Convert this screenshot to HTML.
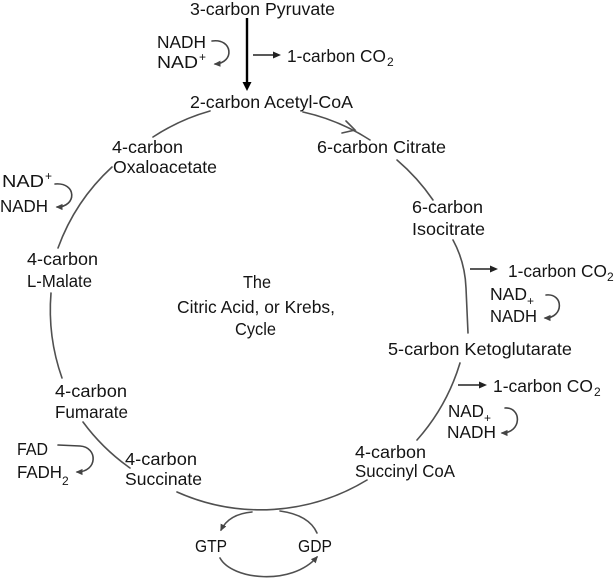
<!DOCTYPE html>
<html>
<head>
<meta charset="utf-8">
<style>
  html, body { margin: 0; padding: 0; background: #ffffff; }
  svg { display: block; }
  text { font-family: "Liberation Sans", "DejaVu Sans", sans-serif; font-size: 17.5px; fill: #141414; }
  .sm { font-size: 12px; }
</style>
</head>
<body>
<svg width="614" height="582" viewBox="0 0 614 582" xmlns="http://www.w3.org/2000/svg">
  <defs>
    <marker id="ah" viewBox="0 0 10 10" refX="8" refY="5" markerWidth="7" markerHeight="7" markerUnits="userSpaceOnUse" orient="auto">
      <path d="M0,0.5 L10,5 L0,9.5 z" fill="#444"/>
    </marker>
  </defs>

  <!-- Big cycle segments -->
  <g fill="none" stroke="#505050" stroke-width="1.6" stroke-linecap="round">
    <path d="M210,111 A205,205 0 0 0 153,137"/>
    <path d="M112,167 A205,205 0 0 0 58,248"/>
    <path d="M51,293 A205,205 0 0 0 62,378"/>
    <path d="M83,422 A205,205 0 0 0 130,468"/>
    <path d="M177,492 A205,205 0 0 0 367,480"/>
    <path d="M417,440 A205,205 0 0 0 460,363"/>
    <path d="M453,240 Q465,262 466,288 L468,333"/>
    <path d="M397,160 A205,205 0 0 1 433,200"/>
    <path d="M303,112 A205,205 0 0 1 370,140"/>
    <path d="M346,121 L355,130 L342,133"/>
  </g>

  <!-- GTP / GDP loop -->
  <g fill="none" stroke="#505050" stroke-width="1.6" stroke-linecap="round">
    <path d="M252,512 Q229,514 221,530" marker-end="url(#ah)"/>
    <path d="M280,511 Q309,515 317,533"/>
    <path d="M220,558 C232,580 292,586 317,557" marker-end="url(#ah)"/>
  </g>

  <!-- Curved cofactor arrows -->
  <g fill="none" stroke="#444" stroke-width="1.6" stroke-linecap="round">
    <path d="M212,41 C233,38 235,63 215,64" marker-end="url(#ah)"/>
    <path d="M55,184 C77,182 77,207 57,207" marker-end="url(#ah)"/>
    <path d="M546,295 C564,293 564,318 545,318" marker-end="url(#ah)"/>
    <path d="M505,408 C522,407 522,433 502,433" marker-end="url(#ah)"/>
    <path d="M58,445 L80,446 C98,447 98,472 77,472" marker-end="url(#ah)"/>
  </g>

  <!-- Straight arrows -->
  <line x1="247" y1="18" x2="247" y2="85" stroke="#000" stroke-width="2.4"/>
  <polygon points="242.5,82 247,91 251.5,82" fill="#000"/>

  <line x1="253" y1="55" x2="275" y2="55" stroke="#222" stroke-width="1.6"/>
  <polygon points="273,51.5 281,55 273,58.5" fill="#222"/>

  <line x1="470" y1="269" x2="492" y2="269" stroke="#222" stroke-width="1.6"/>
  <polygon points="490,265.5 498,269 490,272.5" fill="#222"/>

  <line x1="458" y1="385" x2="481" y2="385" stroke="#222" stroke-width="1.6"/>
  <polygon points="479,381.5 487,385 479,388.5" fill="#222"/>

  <!-- Labels -->
  <text x="190" y="15" textLength="145" lengthAdjust="spacingAndGlyphs">3-carbon Pyruvate</text>

  <text x="157" y="48" textLength="49" lengthAdjust="spacingAndGlyphs">NADH</text>
  <text x="157" y="68" textLength="41" lengthAdjust="spacingAndGlyphs">NAD</text>
  <text x="199" y="61" class="sm">+</text>

  <text x="287" y="62" textLength="99" lengthAdjust="spacingAndGlyphs">1-carbon CO</text>
  <text x="387" y="66" class="sm">2</text>

  <text x="190" y="108" textLength="163" lengthAdjust="spacingAndGlyphs">2-carbon Acetyl-CoA</text>

  <text x="112" y="153" textLength="71" lengthAdjust="spacingAndGlyphs">4-carbon</text>
  <text x="113" y="173" textLength="104" lengthAdjust="spacingAndGlyphs">Oxaloacetate</text>

  <text x="317" y="153" textLength="129" lengthAdjust="spacingAndGlyphs">6-carbon Citrate</text>

  <text x="2" y="187" textLength="42" lengthAdjust="spacingAndGlyphs">NAD</text>
  <text x="45" y="180" class="sm">+</text>
  <text x="0" y="212" textLength="48" lengthAdjust="spacingAndGlyphs">NADH</text>

  <text x="412" y="213" textLength="71" lengthAdjust="spacingAndGlyphs">6-carbon</text>
  <text x="412" y="235" textLength="73" lengthAdjust="spacingAndGlyphs">Isocitrate</text>

  <text x="27" y="265" textLength="71" lengthAdjust="spacingAndGlyphs">4-carbon</text>
  <text x="27" y="287" textLength="65" lengthAdjust="spacingAndGlyphs">L-Malate</text>

  <text x="508" y="277" textLength="99" lengthAdjust="spacingAndGlyphs">1-carbon CO</text>
  <text x="607" y="281" class="sm">2</text>
  <text x="490" y="300" textLength="37" lengthAdjust="spacingAndGlyphs">NAD</text>
  <text x="527" y="305" class="sm">+</text>
  <text x="490" y="322" textLength="47" lengthAdjust="spacingAndGlyphs">NADH</text>

  <text x="243" y="288" textLength="28" lengthAdjust="spacingAndGlyphs">The</text>
  <text x="177" y="313" textLength="158" lengthAdjust="spacingAndGlyphs">Citric Acid, or Krebs,</text>
  <text x="235" y="335" textLength="41" lengthAdjust="spacingAndGlyphs">Cycle</text>

  <text x="388" y="355" textLength="184" lengthAdjust="spacingAndGlyphs">5-carbon Ketoglutarate</text>

  <text x="493" y="392" textLength="100" lengthAdjust="spacingAndGlyphs">1-carbon CO</text>
  <text x="594" y="396" class="sm">2</text>
  <text x="448" y="417" textLength="36" lengthAdjust="spacingAndGlyphs">NAD</text>
  <text x="484" y="422" class="sm">+</text>
  <text x="447" y="438" textLength="49" lengthAdjust="spacingAndGlyphs">NADH</text>

  <text x="55" y="397" textLength="72" lengthAdjust="spacingAndGlyphs">4-carbon</text>
  <text x="55" y="418" textLength="73" lengthAdjust="spacingAndGlyphs">Fumarate</text>

  <text x="17" y="455" textLength="31" lengthAdjust="spacingAndGlyphs">FAD</text>
  <text x="17" y="478" textLength="45" lengthAdjust="spacingAndGlyphs">FADH</text>
  <text x="62" y="485" class="sm">2</text>

  <text x="125" y="465" textLength="72" lengthAdjust="spacingAndGlyphs">4-carbon</text>
  <text x="125" y="485" textLength="77" lengthAdjust="spacingAndGlyphs">Succinate</text>

  <text x="355" y="458" textLength="71" lengthAdjust="spacingAndGlyphs">4-carbon</text>
  <text x="355" y="477" textLength="100" lengthAdjust="spacingAndGlyphs">Succinyl CoA</text>

  <text x="195" y="552" textLength="32" lengthAdjust="spacingAndGlyphs">GTP</text>
  <text x="298" y="552" textLength="34" lengthAdjust="spacingAndGlyphs">GDP</text>
</svg>
</body>
</html>
